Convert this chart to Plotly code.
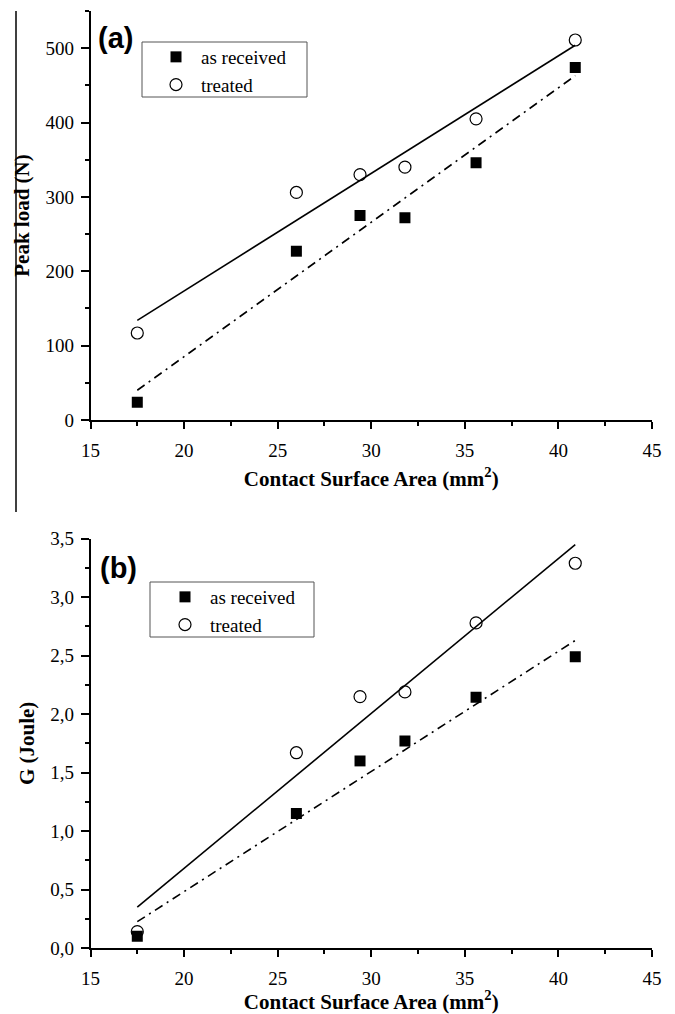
import plotly.graph_objects as go

# ---------------- data ----------------
area = [17.5, 26.0, 29.4, 31.8, 35.6, 40.9]

peak_received = [24, 227, 275, 272, 346, 474]
peak_treated = [117, 306, 330, 340, 405, 511]

g_received = [0.10, 1.15, 1.60, 1.77, 2.145, 2.49]
g_treated = [0.14, 1.67, 2.15, 2.19, 2.78, 3.29]

# linear fit end points
fit_x = [17.5, 40.9]
fit_peak_treated = [134, 504]
fit_peak_received = [40, 463]
fit_g_treated = [0.35, 3.45]
fit_g_received = [0.225, 2.63]

x_ticks = [15, 20, 25, 30, 35, 40, 45]
peak_ticks = [0, 100, 200, 300, 400, 500]
g_ticks = [0.0, 0.5, 1.0, 1.5, 2.0, 2.5, 3.0, 3.5]

names = ["as received", "treated"]
x_title = "Contact Surface Area (mm<sup>2</sup>)"

# ---------------- layout helpers ----------------
W, H = 675, 1014
SERIF = "Liberation Serif"
SANS = "Liberation Sans"


def px_x(p):
    return p / W


def px_y(p):
    return 1 - p / H


xdom = [px_x(90.5), px_x(652)]
ydom_a = [px_y(420), px_y(11)]
ydom_b = [px_y(948), px_y(538.7)]

tickfont = dict(family=SERIF, size=19, color="black")
titlefont = dict(family=SERIF, size=21, color="black", weight="bold")
legfont = dict(family=SERIF, size=19, color="black")

fig = go.Figure()

sq = dict(symbol="square", size=11, color="black", line=dict(width=0))
circ = dict(symbol="circle-open", size=12, color="black", line=dict(width=1.2, color="black"))
dashdot = "9px,5px,2px,5px"

# panel (a)
fig.add_trace(go.Scatter(x=fit_x, y=fit_peak_treated, mode="lines", line=dict(color="black", width=1.6),
                         showlegend=False, xaxis="x", yaxis="y"))
fig.add_trace(go.Scatter(x=fit_x, y=fit_peak_received, mode="lines",
                         line=dict(color="black", width=1.6, dash=dashdot),
                         showlegend=False, xaxis="x", yaxis="y"))
fig.add_trace(go.Scatter(x=area, y=peak_received, mode="markers", marker=sq, name=names[0],
                         legend="legend", xaxis="x", yaxis="y"))
fig.add_trace(go.Scatter(x=area, y=peak_treated, mode="markers", marker=circ, name=names[1],
                         legend="legend", xaxis="x", yaxis="y"))

# panel (b)
fig.add_trace(go.Scatter(x=fit_x, y=fit_g_treated, mode="lines", line=dict(color="black", width=1.6),
                         showlegend=False, xaxis="x2", yaxis="y2"))
fig.add_trace(go.Scatter(x=fit_x, y=fit_g_received, mode="lines",
                         line=dict(color="black", width=1.6, dash=dashdot),
                         showlegend=False, xaxis="x2", yaxis="y2"))
fig.add_trace(go.Scatter(x=area, y=g_received, mode="markers", marker=sq, name=names[0],
                         legend="legend2", xaxis="x2", yaxis="y2"))
fig.add_trace(go.Scatter(x=area, y=g_treated, mode="markers", marker=circ, name=names[1],
                         legend="legend2", xaxis="x2", yaxis="y2"))


def xax(anchor, ticks="outside", side="bottom", show_labels=True, title=None, overlay=None):
    d = dict(domain=xdom, anchor=anchor, range=[15, 45], tickvals=x_ticks, ticks=ticks, ticklen=7,
             tickwidth=1.5, tickcolor="black", showline=True, linecolor="black", linewidth=1.6,
             showgrid=False, zeroline=False, side=side, showticklabels=show_labels,
             tickfont=tickfont, automargin=False, ticklabelstandoff=5,
             minor=dict(ticks=ticks, ticklen=4, tickwidth=1.5, tickcolor="black", dtick=2.5, tick0=15,
                        showgrid=False))
    if title:
        d["title"] = dict(text=title, font=titlefont, standoff=12)
    if overlay:
        d["overlaying"] = overlay
    return d


def yax(anchor, dom, rng, vals, fmt, dt_minor, ticks="outside", side="left", show_labels=True,
        title=None, overlay=None):
    d = dict(domain=dom, anchor=anchor, range=rng, tickvals=vals, tickformat=fmt, ticks=ticks, ticklen=8,
             tickwidth=1.5, tickcolor="black", showline=True, linecolor="black", linewidth=1.6,
             showgrid=False, zeroline=False, side=side, showticklabels=show_labels,
             tickfont=tickfont, automargin=False, ticklabelstandoff=3,
             minor=dict(ticks=ticks, ticklen=4, tickwidth=1.5, tickcolor="black", dtick=dt_minor, tick0=0,
                        showgrid=False))
    if title:
        d["title"] = dict(text=title, font=titlefont, standoff=10)
    if overlay:
        d["overlaying"] = overlay
    return d


fig.update_layout(
    width=W, height=H,
    margin=dict(l=0, r=0, t=0, b=0),
    paper_bgcolor="white", plot_bgcolor="white",
    separators=",.",
    xaxis=xax("y", title=x_title),
    yaxis=yax("x", ydom_a, [0, 550], peak_ticks, "d", 50, title="Peak load (N)"),
    xaxis2=xax("y2", title=x_title),
    yaxis2=yax("x2", ydom_b, [0, 3.5], g_ticks, ".1f", 0.25, title="G (Joule)"),
    xaxis3=xax("y", ticks="inside", side="top", show_labels=False, overlay="x"),
    yaxis3=yax("x", ydom_a, [0, 550], peak_ticks, "d", 50, ticks="inside", side="right",
               show_labels=False, overlay="y"),
    xaxis4=xax("y2", ticks="inside", side="top", show_labels=False, overlay="x2"),
    yaxis4=yax("x2", ydom_b, [0, 3.5], g_ticks, ".1f", 0.25, ticks="inside", side="right",
               show_labels=False, overlay="y2"),
    legend=dict(x=px_x(151), y=px_y(38), xanchor="left", yanchor="top", bgcolor="rgba(0,0,0,0)",
                borderwidth=0, font=legfont, itemwidth=40, tracegroupgap=0),
    legend2=dict(x=px_x(160), y=px_y(578), xanchor="left", yanchor="top", bgcolor="rgba(0,0,0,0)",
                 borderwidth=0, font=legfont, itemwidth=40, tracegroupgap=0),
    showlegend=True,
)

# legend frames
fig.add_shape(type="rect", xref="paper", yref="paper", x0=px_x(142), x1=px_x(307), y0=px_y(97), y1=px_y(42),
              line=dict(color="#555555", width=1))
fig.add_shape(type="rect", xref="paper", yref="paper", x0=px_x(150), x1=px_x(314), y0=px_y(637), y1=px_y(582),
              line=dict(color="#555555", width=1))
# stray frame line at the left edge of the upper panel
fig.add_shape(type="line", xref="paper", yref="paper", x0=px_x(16), x1=px_x(16), y0=px_y(512), y1=px_y(11),
              line=dict(color="black", width=1.5))

# panel labels
fig.add_annotation(text="<b>(a)</b>", xref="paper", yref="paper", x=px_x(96), y=px_y(38), xanchor="left",
                   yanchor="middle", showarrow=False, font=dict(family=SANS, size=29, color="black"))
fig.add_annotation(text="<b>(b)</b>", xref="paper", yref="paper", x=px_x(98), y=px_y(568), xanchor="left",
                   yanchor="middle", showarrow=False, font=dict(family=SANS, size=29, color="black"))

fig.write_html("out.html")
